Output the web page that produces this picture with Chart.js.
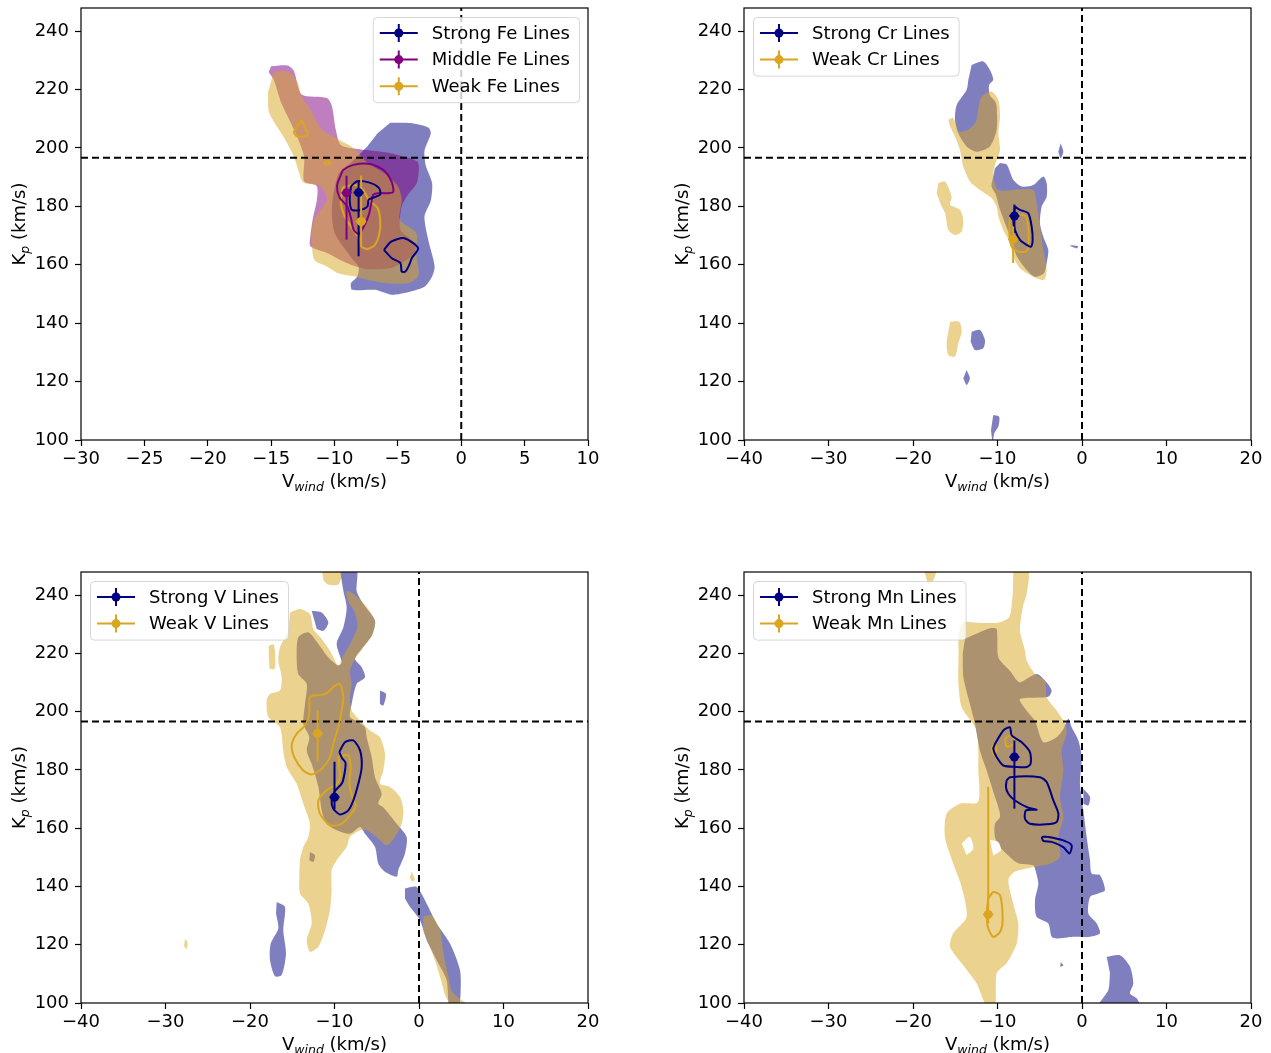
<!DOCTYPE html>
<html>
<head>
<meta charset="utf-8">
<script src="https://cdn.jsdelivr.net/npm/chart.js@4.4.1/dist/chart.umd.min.js"></script>
<style>
  body { margin: 0; background: #fff; width: 1271px; height: 1053px; overflow: hidden; position: relative; }
  canvas { position: absolute; }
</style>
</head>
<body>
<canvas id="fe"></canvas>
<canvas id="cr"></canvas>
<canvas id="v"></canvas>
<canvas id="mn"></canvas>
<script>
// ---------- shared axes ----------
const kpRange = [100, 247.9];
const kpTicks = [100, 120, 140, 160, 180, 200, 220, 240];
const feVRange = [-30, 10];
const feVTicks = [-30, -25, -20, -15, -10, -5, 0, 5, 10];
const wideVRange = [-40, 20];
const wideVTicks = [-40, -30, -20, -10, 0, 10, 20];
const kpReference = 196.6;
const vReference = 0;
const xTitle = [['V', ''], ['wind', 'sub'], [' (km/s)', '']];
const yTitle = [['K', ''], ['p', 'sub'], [' (km/s)', '']];

// ---------- Fe (top left) ----------
const feLabels = ['Strong Fe Lines', 'Middle Fe Lines', 'Weak Fe Lines'];
const feVwind = [-8.1, -9.05, -7.9];
const feKp = [184.7, 184.6, 174.8];
const feKpErrLow = [21.8, 16.0, 8.5];
const feKpErrHigh = [3.9, 5.9, 15.7];
const feVwindErr = [0.4, 0.4, 0.4];

const feStrongFill = [[-5.6,208.6],[-4,208.5],[-2.6,207],[-2.4,205],[-2.9,199],[-2.8,194],[-2.3,188],[-2.4,182],[-2.9,176.5],[-2.6,168.5],[-2.1,159.5],[-2.3,156],[-2.9,152.5],[-4.5,150.3],[-5.5,149.7],[-6.8,151.4],[-8.6,151.4],[-8.7,153.7],[-8.2,156],[-8.1,159.4],[-8.7,162.5],[-10,171],[-10.2,180],[-9.7,191],[-8.7,195],[-7.4,200.6],[-6.6,205]];
const feMiddleFill = [[-15,228],[-13.7,228.2],[-13.2,226.3],[-12.6,218.3],[-10.6,217.1],[-10.2,214.3],[-9.9,206.3],[-9.5,201],[-8,199.5],[-6,198.5],[-4.5,197],[-3.4,195],[-3.5,188],[-4.2,184],[-4.7,180],[-4.8,172],[-3.8,168],[-3.6,165],[-4.2,162],[-5.5,159],[-7.5,158.5],[-9,160.5],[-10.6,164],[-11.9,166.3],[-11.9,170],[-11.7,176],[-11.4,182],[-11.4,187],[-12.4,188.6],[-12.4,197.1],[-13.2,206.3],[-14.2,215.4],[-14.8,223.4],[-15.2,226]];
const feWeakFill = [[-14.8,226],[-13.6,226],[-12.9,222.3],[-12.6,217.7],[-11.9,213],[-11,206.3],[-9.7,202.9],[-8.7,200.6],[-8.1,198.3],[-7.4,194.9],[-6.1,191.4],[-5,186.9],[-4.7,182.3],[-4.85,175.4],[-3.55,170.9],[-3.55,164],[-3.4,159.4],[-3.4,156],[-4.2,153.7],[-5.8,153.7],[-7.4,154.9],[-8.4,156],[-9.7,157.1],[-10.6,159.4],[-11.6,161.7],[-11.8,170.9],[-11.6,175.4],[-10.6,182.3],[-11.1,186.9],[-12.4,188],[-12.6,189],[-13.2,197],[-13.9,202.9],[-15.15,212],[-15.25,218.9]];
const feStrongLine1 = [[-8.7,186.9],[-8.2,188.6],[-7.3,188.2],[-6.5,186.3],[-6.4,184],[-7.3,182.3],[-7.4,180],[-8.1,178.6],[-8.65,178.9],[-8.8,182.3]];
const feStrongLine2 = [[-6.1,165.1],[-5.5,168],[-4.5,169.1],[-3.4,165.7],[-3.9,162.3],[-4.1,160],[-4.4,157.7],[-4.7,157.7],[-4.8,160.6],[-5.5,162.3]];
const feMiddleLine = [[-9.5,190.8],[-9.3,192.5],[-8.5,194.2],[-7.2,194.5],[-6.15,192.5],[-5.5,188.5],[-5.36,185],[-5.75,184.5],[-6.55,184.5],[-6.95,183.9],[-7.1,181],[-7.3,177],[-7.7,173],[-8.1,170.5],[-8.5,172],[-8.7,176],[-9.0,180],[-9.6,183],[-9.8,187]];
const feWeakLine1 = [[-9.36,186.5],[-8.4,187.4],[-7.75,185.7],[-7.3,182.3],[-6.6,179.4],[-6.4,175.4],[-6.45,170.9],[-6.8,166.9],[-7.4,165.4],[-7.9,166.3],[-8.07,169.1],[-8.55,172],[-9.2,176.6],[-9.5,181.1],[-9.4,185.1]];
const feWeakLine2 = [[-12.6,209.5],[-13.2,205.5],[-12.9,203.8],[-12.1,204.5]];
const feWeakLine3 = [[-10.55,195.6],[-10.3,194.9],[-10.55,194.2],[-10.8,194.9]];

// ---------- Cr (top right) ----------
const crLabels = ['Strong Cr Lines', 'Weak Cr Lines'];
const crVwind = [-8.0, -8.15];
const crKp = [176.7, 168.7];
const crKpErrLow = [5.8, 8.1];
const crKpErrHigh = [3.9, 4.4];
const crVwindErr = [0.6, 0.6];

const crStrongFill1 = [[-13.06,228.4],[-11.68,229.6],[-10.89,226.7],[-10.5,223.3],[-11.0,221.5],[-10.9,218],[-10.3,216],[-10.1,214.2],[-10.1,206.2],[-10.9,200.5],[-12.47,198.7],[-13.65,200.5],[-14.64,205],[-15.03,209.6],[-14.83,214.7],[-13.65,219.9],[-13.45,223.3]];
const crStrongFill2 = [[-9.7,194.8],[-8.9,194.2],[-8.13,189.1],[-7.14,186.8],[-5.76,187.3],[-4.58,190.2],[-4.18,187.9],[-4.18,183.3],[-4.77,179.9],[-4.97,174.2],[-4.58,169.6],[-3.99,165.1],[-4.18,160.5],[-4.5,157.1],[-5.56,155.9],[-6.55,158.2],[-7.7,162.8],[-8.5,169.6],[-9.7,178.8],[-10.2,184],[-10.7,186.8],[-10.5,190.2],[-10.3,193]];
const crStrongFill3 = [[-13.06,137.1],[-12.07,137.7],[-11.48,134.2],[-11.68,131.4],[-12.67,130.8],[-13.18,133.7]];
const crStrongFill4 = [[-13.65,124.0],[-13.26,121.1],[-13.65,118.8],[-14.05,121.1]];
const crStrongFill5 = [[-10.5,108.6],[-9.8,108],[-9.9,104.6],[-10.38,102.3],[-10.57,99],[-10.77,103.4]];
const crStrongFill6 = [[-2.53,201.6],[-2.21,198.7],[-2.53,196.5],[-2.8,198.7]];
const crStrongFill7 = [[-1.34,166.8],[-0.43,166.3],[-0.63,165.6],[-1.34,166.3]];
const crWeakFill1 = [[-15.3,210.4],[-14.9,208.5],[-14.64,205.6],[-13.45,206.2],[-12.55,209],[-12.27,213.6],[-11.88,217.6],[-10.7,219.3],[-9.9,216.4],[-9.7,210.7],[-9.9,205],[-9.7,199.3],[-10.3,194.2],[-10.5,190.2],[-9.9,185.6],[-7.5,185.8],[-5.76,185.6],[-5.37,181],[-4.97,173.1],[-4.58,165.1],[-4.18,158.2],[-4.5,154.8],[-5.76,155.9],[-7.34,158.8],[-8.13,162.8],[-8.52,167.4],[-9.31,171.9],[-9.9,176.5],[-10.1,179.9],[-10.69,182.8],[-12.07,185.6],[-13.26,188.5],[-14.05,193.6],[-14.44,199.3],[-15.03,203.9],[-15.6,207.3],[-15.82,209.6]];
const crWeakFill2 = [[-17.0,187.9],[-16.2,188.5],[-15.43,183.3],[-15.6,180.5],[-14.44,178.8],[-14.05,175.3],[-14.24,171.4],[-15.03,170.2],[-15.82,171.9],[-16.2,177.6],[-16.6,179.9],[-17.2,184.5]];
const crWeakFill3 = [[-15.6,140.5],[-14.52,140.5],[-14.24,137.1],[-14.64,133.1],[-15.03,128.6],[-15.82,129.1],[-16.02,133.1],[-15.82,137.1]];
const crStrongLine = [[-7.93,179.9],[-7.34,178.8],[-6.35,177.6],[-5.96,173.1],[-5.84,168.5],[-6.04,166.2],[-6.55,166.8],[-7.34,168.5],[-7.93,171.9],[-8.13,175.3]];
const crWeakLine = [[-8.52,176.5],[-7.73,177.1],[-6.63,176.5],[-6.35,171.9],[-6.35,166.2],[-6.63,164.5],[-7.54,164.5],[-8.32,166.2],[-8.6,170.8]];

// ---------- V (bottom left) ----------
const vLabels = ['Strong V Lines', 'Weak V Lines'];
const vVwind = [-10.0, -12.0];
const vKp = [170.6, 192.5];
const vKpErrLow = [4.0, 9.7];
const vKpErrHigh = [12.2, 8.0];
const vVwindErr = [0.6, 0.6];

const vStrongFill1 = [[-9.35,248.5],[-7.38,248.5],[-7.38,241.4],[-6.59,236.9],[-5.21,231.2],[-5.6,226.0],[-6.78,221.5],[-7.57,218.1],[-6.78,215.2],[-6.39,211.8],[-7.38,209.5],[-7.97,202.6],[-8.17,198.1],[-7.18,196.4],[-6.39,194.6],[-6.19,191.2],[-5.6,184.4],[-5.21,177.5],[-4.42,171.8],[-4.81,168.4],[-4.22,167.2],[-2.64,161.5],[-1.46,157.0],[-1.66,151.3],[-2.45,145.6],[-2.64,143.3],[-4.02,145.0],[-4.81,147.8],[-5.21,153.6],[-6.39,158.1],[-6.98,160.4],[-8.17,158.1],[-9.74,159.3],[-10.93,161.5],[-11.52,166.1],[-11.91,174.1],[-12.7,182.1],[-13.29,186.6],[-12.98,191.2],[-13.69,195.8],[-13.49,202.6],[-13.29,209.5],[-14.28,212.9],[-14.48,218.6],[-14.28,225.5],[-13.1,227.2],[-11.91,223.2],[-10.73,218.6],[-9.55,215.8],[-9.15,216.9],[-9.74,223.2],[-8.95,228.9],[-8.56,235.7],[-8.95,241.4]];
const vStrongFill2 = [[-12.7,234.6],[-11.52,234.0],[-10.73,230.6],[-11.32,227.7],[-12.1,228.3]];
const vStrongFill3 = [[-4.62,207.2],[-3.9,206.0],[-4.22,202.1],[-4.62,202.6]];
const vStrongFill4 = [[-1.66,139.3],[-0.28,139.8],[0.91,134.1],[2.09,127.3],[3.67,120.4],[4.85,111.3],[4.93,104.5],[4.7,99],[3.6,99],[3.27,107.9],[2.09,114.7],[0.91,121.6],[0.12,128.4],[-1.07,133.0],[-1.66,135.9]];
const vStrongFill5 = [[-16.84,134.7],[-15.86,133.0],[-16.06,125.0],[-15.74,117.0],[-16.25,109.6],[-17.04,109.2],[-17.63,114.7],[-17.55,120.4],[-16.65,125.6],[-16.92,130.7]];
const vStrongFill6 = [[-12.9,151.8],[-12.31,150.7],[-12.5,148.4],[-12.98,149.0]];
const vWeakFill1 = [[-15.27,234.0],[-14.08,235.2],[-12.9,233.4],[-12.5,228.3],[-11.52,224.9],[-10.53,220.9],[-9.55,215.8],[-9.0,219],[-8.0,224],[-7.3,229],[-7.6,234],[-8.4,238],[-8.56,241.4],[-7.6,240],[-6.2,236],[-5.2,231],[-5.5,226.5],[-6.6,222],[-7.6,218],[-8.17,214.0],[-7.97,209.5],[-8.17,204.9],[-7.97,200.4],[-6.98,196.9],[-5.8,193.5],[-4.62,191.2],[-4.02,185.5],[-4.22,179.8],[-4.62,175.2],[-3.43,174.1],[-2.25,170.7],[-1.85,166.1],[-2.05,161.5],[-2.84,157.0],[-3.83,154.1],[-5.01,157.0],[-6.19,159.3],[-6.98,159.3],[-8.17,157.0],[-8.56,153.5],[-9.74,149.0],[-10.34,145.6],[-10.34,138.7],[-10.53,131.9],[-11.12,125.0],[-11.91,119.3],[-12.9,117.6],[-13.29,121.6],[-12.7,127.3],[-13.1,134.1],[-14.08,137.6],[-14.16,143.3],[-14.08,149.0],[-13.69,153.5],[-13.1,157.0],[-12.9,161.5],[-13.69,168.4],[-14.48,175.2],[-15.66,181.0],[-16.06,186.6],[-16.45,194.6],[-17.83,198.1],[-18.03,203.8],[-17.63,206.0],[-16.45,207.2],[-16.25,211.8],[-16.65,217.5],[-16.45,222.0],[-15.46,227.7]];
const vWeakFill2 = [[-11.5,248.5],[-9.2,248.5],[-9.5,243.7],[-10.7,243.5],[-11.3,245]];
const vWeakFill3 = [[-17.8,222.5],[-17.2,223],[-17.0,219],[-17.1,214.6],[-17.7,214.8]];
const vWeakFill4 = [[0.5,129.6],[1.5,130.1],[2.49,125.0],[2.9,117],[3.4,110],[3.9,104],[5.0,101],[6.0,99],[4.0,99],[3.2,102],[2.6,108],[1.9,114.5],[1.2,120],[0.5,124.5]];
const vWeakFill5 = [[-0.85,145.0],[-0.5,142.5],[-0.75,141.6],[-1.1,143]];
const vWeakFill6 = [[-27.7,122],[-27.4,121],[-27.5,118.5],[-27.8,119.5]];
const vStrongLine = [[-9.43,186.1],[-8.76,189.5],[-7.77,190.1],[-6.98,186.7],[-6.78,181.0],[-7.18,175.2],[-7.77,169.5],[-8.36,166.1],[-9.35,164.7],[-10.14,166.7],[-10.34,169.5],[-10.0,172.5],[-9.1,175.5],[-8.8,179],[-8.7,182.5],[-9.1,184]];
const vWeakLine1 = [[-12.7,205.5],[-11.12,206.0],[-9.94,208.9],[-9.35,209.5],[-8.95,204.9],[-9.15,200.4],[-9.55,194.6],[-10.14,189.0],[-10.53,184.4],[-11.52,180.4],[-12.7,178.4],[-13.69,179.8],[-14.67,183.8],[-15.07,188.4],[-14.48,192.4],[-13.49,195.2],[-12.98,199.2],[-12.98,204.3]];
const vWeakLine2 = [[-9.55,184.4],[-8.36,185.0],[-8.09,181.0],[-8.24,175.2],[-7.77,169.5],[-7.46,167.8],[-8.17,164.4],[-9.27,161.3],[-10.53,161.0],[-11.72,165.0],[-11.91,169.5],[-10.73,173.5],[-9.82,174.7],[-9.35,177.5],[-9.43,181.0]];

// ---------- Mn (bottom right) ----------
const mnLabels = ['Strong Mn Lines', 'Weak Mn Lines'];
const mnVwind = [-8.0, -11.1];
const mnKp = [184.4, 130.4];
const mnKpErrLow = [17.7, 3.0];
const mnKpErrHigh = [5.7, 43.8];
const mnVwindErr = [0.6, 0.6];

const mnStrongFill1 = [[-13.85,224.9],[-13.06,226.0],[-10.89,228.6],[-10.1,228.3],[-9.9,218.6],[-8.52,214.0],[-7.8,211],[-7.34,210.0],[-5.37,212.9],[-4.18,210.0],[-3.59,207.2],[-3.99,205.1],[-7.34,204.3],[-6.6,200.5],[-5.6,197.0],[-4.58,189.5],[-3.0,191.2],[-2.2,194.0],[-1.62,197.5],[-1.22,194.6],[-0.43,190.1],[-0.04,184.4],[-0.24,175.2],[0.16,166.1],[0.55,157.0],[0.95,149.0],[1.14,144.4],[2.13,143.8],[2.72,138.7],[1.93,137.6],[0.95,136.4],[0.75,130.7],[1.74,127.3],[2.13,123.9],[0.95,122.7],[-1.03,122.7],[-3.0,122.1],[-3.59,122.7],[-3.99,127.3],[-5.37,129.6],[-5.56,135.3],[-5.17,141.0],[-5.56,146.1],[-5.76,147.3],[-7.34,147.8],[-8.13,149.0],[-9.7,153.5],[-10.3,157.0],[-10.3,161.5],[-9.7,163.8],[-9.9,167.2],[-10.3,170.7],[-11.28,179.8],[-12.07,186.6],[-12.67,195.8],[-13.26,202.6],[-14.04,211.8],[-14.12,219.8]];
const mnStrongFill2 = [[0.16,173.5],[0.95,170.7],[0.75,167.8],[0.16,168.4]];
const mnStrongFill3 = [[2.92,115.9],[4.5,116.4],[5.68,112.5],[6.07,106.7],[5.68,103.3],[6.47,101.6],[6.8,99],[2.0,99],[3.12,104.5],[3.31,110.2]];
const mnStrongFill4 = [[-2.5,114],[-2.2,112.8],[-2.6,112.5]];
const mnWeakFill1 = [[-8.13,248.5],[-6.35,248.5],[-6.55,240.3],[-7.0,236],[-7.34,227.7],[-6.75,220.9],[-6.55,217.5],[-5.56,212.9],[-4.38,210.6],[-4.18,204.9],[-3.0,200.4],[-2.21,196.9],[-1.9,195],[-1.82,192.4],[-2.41,186.6],[-2.21,179.8],[-2.6,170.7],[-2.21,163.8],[-2.8,157.0],[-2.6,150.1],[-3.79,147.8],[-5.76,146.7],[-6.75,146.0],[-8.0,145],[-8.72,142.1],[-8.13,134.1],[-7.54,127.3],[-7.73,120.4],[-8.92,113.6],[-10.1,110.2],[-10.3,99],[-11.3,99],[-12.47,106.7],[-14.24,113.6],[-15.62,119.3],[-15.23,123.9],[-13.65,129.6],[-14.24,139.8],[-15.23,147.8],[-16.22,157.0],[-16.02,165.0],[-14.44,168.4],[-12.3,169],[-12.27,179.8],[-12.47,193.5],[-14.24,201.5],[-14.64,210.6],[-14.6,220],[-14.6,226.5],[-14.04,230.6],[-12.5,230.5],[-10.0,230.5],[-8.6,232.5],[-8.2,240]];
const mnWeakFill2 = [[-18.7,248.5],[-17.3,248.5],[-17.6,245],[-18.2,243.5]];
const mnHole1 = [[-14.24,154.7],[-13.26,157.0],[-12.86,153.0],[-13.65,150.7]];
const mnHole2 = [[-10.9,156],[-9.9,155.2],[-9.6,152.4],[-10.5,150.6]];
const mnStrongLine1 = [[-10.3,188.9],[-9.31,193.5],[-8.52,194.6],[-8.32,191.8],[-7.14,189.5],[-6.16,186.1],[-6.08,182.1],[-6.55,181.0],[-7.73,181.0],[-9.31,181.5],[-10.1,184.4],[-10.5,187.2]];
const mnStrongLine2 = [[-8.92,176.4],[-8.52,177.5],[-4.97,177.5],[-4.18,175.8],[-3.39,169.5],[-2.8,165.0],[-3.0,162.1],[-4.18,161.3],[-6.16,161.5],[-6.75,163.2],[-6.63,166.1],[-5.37,166.3],[-6.35,167.0],[-7.93,169.5],[-8.72,171.8],[-9.0,174.1]];
const mnStrongLine3 = [[-4.77,157.0],[-3.99,157.0],[-2.21,155.8],[-1.22,154.1],[-1.5,151.3],[-2.21,153.5],[-3.59,155.3],[-4.58,155.6]];
const mnWeakLine1 = [[-9.11,190.6],[-8.52,191.8],[-7.93,190.1],[-8.32,188.4],[-8.92,188.0]];
const mnWeakLine2 = [[-10.7,187.8],[-10.3,188.9],[-10.1,186.6],[-10.5,185.3]];
const mnWeakLine3 = [[-11.09,135.8],[-10.5,138.1],[-9.7,137.0],[-9.39,128.4],[-9.7,124.4],[-10.5,122.7],[-11.09,125.6],[-11.28,130.7]];

// ---------- styling ----------
const LINE_COLORS = { strong: '#000080', middle: '#800080', weak: '#daa520' };
const FILL_COLORS = { strong: 'rgba(0,0,128,0.5)', middle: 'rgba(128,0,128,0.5)', weak: 'rgba(218,165,32,0.5)' };
const FILL_ORDER = { strong: 30, middle: 29, weak: 28 };
const FONT = '"DejaVu Sans", sans-serif';

Chart.defaults.font.family = FONT;
Chart.defaults.font.size = 18;
Chart.defaults.color = '#000';

const panels = [
  { id: 'fe', area: [81, 8, 588, 440], xRange: feVRange, xTicks: feVTicks, legendSide: 'right',
    keys: ['strong', 'middle', 'weak'], labels: feLabels,
    v: feVwind, kp: feKp, lo: feKpErrLow, hi: feKpErrHigh, ve: feVwindErr,
    fills: [[feStrongFill, 'strong'], [feMiddleFill, 'middle'], [feWeakFill, 'weak']], holes: [],
    lines: [[feStrongLine1, 'strong'], [feStrongLine2, 'strong'], [feMiddleLine, 'middle'],
            [feWeakLine1, 'weak'], [feWeakLine2, 'weak'], [feWeakLine3, 'weak']] },
  { id: 'cr', area: [744, 8, 1251, 440], xRange: wideVRange, xTicks: wideVTicks, legendSide: 'left',
    keys: ['strong', 'weak'], labels: crLabels,
    v: crVwind, kp: crKp, lo: crKpErrLow, hi: crKpErrHigh, ve: crVwindErr,
    fills: [[crStrongFill1, 'strong'], [crStrongFill2, 'strong'], [crStrongFill3, 'strong'], [crStrongFill4, 'strong'],
            [crStrongFill5, 'strong'], [crStrongFill6, 'strong'], [crStrongFill7, 'strong'],
            [crWeakFill1, 'weak'], [crWeakFill2, 'weak'], [crWeakFill3, 'weak']], holes: [],
    lines: [[crStrongLine, 'strong'], [crWeakLine, 'weak']] },
  { id: 'v', area: [81, 572, 588, 1003], xRange: wideVRange, xTicks: wideVTicks, legendSide: 'left',
    keys: ['strong', 'weak'], labels: vLabels,
    v: vVwind, kp: vKp, lo: vKpErrLow, hi: vKpErrHigh, ve: vVwindErr,
    fills: [[vStrongFill1, 'strong'], [vStrongFill2, 'strong'], [vStrongFill3, 'strong'], [vStrongFill4, 'strong'],
            [vStrongFill5, 'strong'], [vStrongFill6, 'strong'],
            [vWeakFill1, 'weak'], [vWeakFill2, 'weak'], [vWeakFill3, 'weak'], [vWeakFill4, 'weak'],
            [vWeakFill5, 'weak'], [vWeakFill6, 'weak']], holes: [],
    lines: [[vStrongLine, 'strong'], [vWeakLine1, 'weak'], [vWeakLine2, 'weak']] },
  { id: 'mn', area: [744, 572, 1251, 1003], xRange: wideVRange, xTicks: wideVTicks, legendSide: 'left',
    keys: ['strong', 'weak'], labels: mnLabels,
    v: mnVwind, kp: mnKp, lo: mnKpErrLow, hi: mnKpErrHigh, ve: mnVwindErr,
    fills: [[mnStrongFill1, 'strong'], [mnStrongFill2, 'strong'], [mnStrongFill3, 'strong'], [mnStrongFill4, 'strong'],
            [mnWeakFill1, 'weak'], [mnWeakFill2, 'weak']], holes: [mnHole1, mnHole2],
    lines: [[mnStrongLine1, 'strong'], [mnStrongLine2, 'strong'], [mnStrongLine3, 'strong'],
            [mnWeakLine1, 'weak'], [mnWeakLine2, 'weak'], [mnWeakLine3, 'weak']] }
];

function toPoints(arr, close) {
  const out = arr.map(p => ({ x: p[0], y: p[1] }));
  if (close) out.push({ x: arr[0][0], y: arr[0][1] });
  return out;
}

function fmtTick(v) {
  return v < 0 ? '\u2212' + Math.abs(v) : String(v);
}

// draws a label such as V_wind with a small italic subscript
function drawRichText(ctx, parts, x, y, rotate) {
  ctx.save();
  ctx.translate(x, y);
  if (rotate) ctx.rotate(-Math.PI / 2);
  ctx.fillStyle = '#000';
  ctx.textBaseline = 'alphabetic';
  ctx.textAlign = 'left';
  const fonts = parts.map(p => p[1] === 'sub' ? 'italic 12.5px ' + FONT : '18px ' + FONT);
  let total = 0;
  const widths = parts.map((p, i) => { ctx.font = fonts[i]; const w = ctx.measureText(p[0]).width; total += w; return w; });
  let cx = -total / 2;
  parts.forEach((p, i) => {
    ctx.font = fonts[i];
    ctx.fillText(p[0], cx, p[1] === 'sub' ? 4 : 0);
    cx += widths[i];
  });
  ctx.restore();
}

function drawLegend(ctx, a, p) {
  ctx.save();
  ctx.font = '18px ' + FONT;
  const maxW = Math.max(...p.labels.map(t => ctx.measureText(t).width));
  const boxW = 59 + maxW + 9;
  const rowGap = 26.6;
  const boxH = 32 + rowGap * (p.labels.length - 1);
  const left = p.legendSide === 'right' ? a.right - 9 - boxW : a.left + 9;
  const top = a.top + 9;
  ctx.beginPath();
  ctx.roundRect(left + 0.5, top + 0.5, boxW, boxH, 4);
  ctx.fillStyle = 'rgba(255,255,255,0.8)';
  ctx.fill();
  ctx.strokeStyle = 'rgba(204,204,204,0.8)';
  ctx.lineWidth = 1;
  ctx.stroke();
  p.labels.forEach((label, i) => {
    const y = top + 16 + i * rowGap;
    const c = LINE_COLORS[p.keys[i]];
    ctx.strokeStyle = c;
    ctx.fillStyle = c;
    ctx.lineWidth = 2;
    ctx.beginPath();
    ctx.moveTo(left + 7, y); ctx.lineTo(left + 45, y);
    ctx.moveTo(left + 26, y - 9); ctx.lineTo(left + 26, y + 9);
    ctx.stroke();
    ctx.beginPath();
    ctx.arc(left + 26, y, 4.5, 0, Math.PI * 2);
    ctx.fill();
    ctx.fillStyle = '#000';
    ctx.textBaseline = 'middle';
    ctx.textAlign = 'left';
    ctx.fillText(label, left + 59, y + 1);
  });
  ctx.restore();
}

function buildPanel(p) {
  const [l, t, r, b] = p.area;
  const canvas = document.getElementById(p.id);
  canvas.width = r - l + 81 + 24;
  canvas.height = b - t + 20 + 60;
  canvas.style.left = (l - 81) + 'px';
  canvas.style.top = (t - 20) + 'px';

  const datasets = [];
  p.fills.forEach(([poly, key]) => datasets.push({
    data: toPoints(poly, false), backgroundColor: FILL_COLORS[key], borderWidth: 0,
    fill: 'shape', pointRadius: 0, tension: 0.25, order: FILL_ORDER[key]
  }));
  p.holes.forEach(poly => datasets.push({
    data: toPoints(poly, false), backgroundColor: '#ffffff', borderWidth: 0,
    fill: 'shape', pointRadius: 0, tension: 0.25, order: 27
  }));
  datasets.push({
    data: [{ x: p.xRange[0], y: kpReference }, { x: p.xRange[1], y: kpReference }],
    borderColor: '#000', borderWidth: 2, borderDash: [7, 4], fill: false, pointRadius: 0, order: 20
  });
  datasets.push({
    data: [{ x: vReference, y: kpRange[0] }, { x: vReference, y: kpRange[1] }],
    borderColor: '#000', borderWidth: 2, borderDash: [7, 4], fill: false, pointRadius: 0, order: 20
  });
  p.lines.forEach(([poly, key]) => datasets.push({
    data: toPoints(poly, true), borderColor: LINE_COLORS[key], borderWidth: 2,
    fill: false, pointRadius: 0, tension: 0.25, order: 15
  }));
  p.keys.forEach((key, i) => {
    const c = LINE_COLORS[key];
    datasets.push({
      data: [{ x: p.v[i], y: p.kp[i] - p.lo[i] }, { x: p.v[i], y: p.kp[i] + p.hi[i] }],
      borderColor: c, borderWidth: 2, fill: false, pointRadius: 0, order: 10 - i
    });
    datasets.push({
      data: [{ x: p.v[i] - p.ve[i], y: p.kp[i] }, { x: p.v[i] + p.ve[i], y: p.kp[i] }],
      borderColor: c, borderWidth: 2, fill: false, pointRadius: 0, order: 10 - i
    });
    datasets.push({
      data: [{ x: p.v[i], y: p.kp[i] }], showLine: false, pointRadius: 4.5,
      pointBackgroundColor: c, pointBorderWidth: 0, order: 5 - i
    });
  });

  const decor = {
    id: 'decor',
    afterDatasetsDraw(chart) {
      const ctx = chart.ctx, a = chart.chartArea;
      ctx.save();
      ctx.strokeStyle = '#000';
      ctx.lineWidth = 1.2;
      ctx.strokeRect(a.left, a.top, a.right - a.left, a.bottom - a.top);
      ctx.restore();
      drawLegend(ctx, a, p);
      drawRichText(ctx, xTitle, (a.left + a.right) / 2, a.bottom + 47, false);
      drawRichText(ctx, yTitle, a.left - 56, (a.top + a.bottom) / 2, true);
    }
  };

  const tickGrid = { display: true, drawOnChartArea: false, drawTicks: true, tickLength: 6, tickWidth: 1.2, tickColor: '#000' };

  new Chart(canvas, {
    type: 'line',
    data: { datasets },
    plugins: [decor],
    options: {
      responsive: false, animation: false, events: [], devicePixelRatio: 1,
      layout: { padding: { top: 20, right: 24, left: 0, bottom: 0 } },
      plugins: { legend: { display: false }, tooltip: { enabled: false } },
      scales: {
        x: {
          type: 'linear', min: p.xRange[0], max: p.xRange[1],
          afterBuildTicks: s => { s.ticks = p.xTicks.map(v => ({ value: v })); },
          afterFit: s => { s.height = 60; },
          grid: tickGrid, border: { display: false },
          ticks: { padding: 3, maxRotation: 0, autoSkip: false, callback: fmtTick }
        },
        y: {
          type: 'linear', min: kpRange[0], max: kpRange[1],
          afterBuildTicks: s => { s.ticks = kpTicks.map(v => ({ value: v })); },
          afterFit: s => { s.width = 81; },
          grid: tickGrid, border: { display: false },
          ticks: { padding: 6, autoSkip: false, callback: fmtTick }
        }
      }
    }
  });
}

panels.forEach(buildPanel);
</script>
</body>
</html>
